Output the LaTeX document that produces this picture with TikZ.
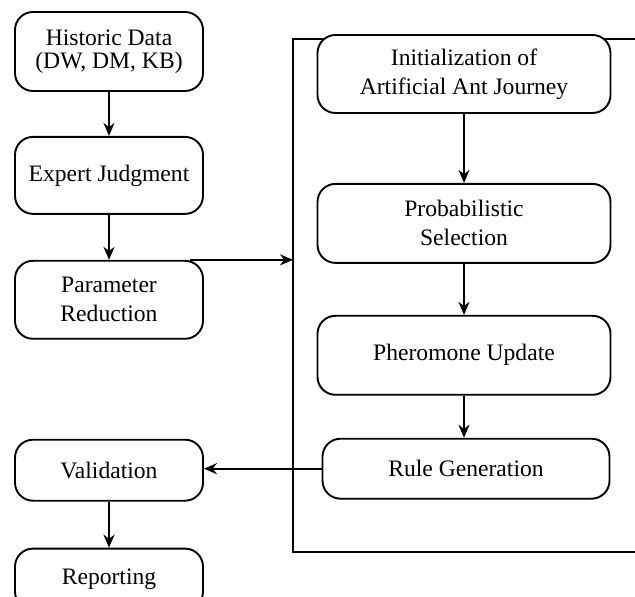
\documentclass[tikz,border=0pt]{standalone}
\usepackage{fontspec}
\setmainfont{Liberation Serif}
\usetikzlibrary{positioning,arrows.meta}

\tikzset{
  stepbox/.style={draw, rounded corners=9pt, align=center, inner sep=2pt,
    font=\fontsize{11.8pt}{14.5pt}\selectfont},
  leftbox/.style={stepbox, minimum width=94pt},
  rightbox/.style={stepbox, minimum width=146.5pt},
}

\begin{document}
\begin{tikzpicture}[line width=0.95pt, >={Stealth[length=6.5pt,width=5.5pt]}]
 \useasboundingbox (0,0) rectangle (317.5pt,-298.5pt);
 % left column
 \node [leftbox, minimum height=39.5pt, font=\fontsize{11.8pt}{11.6pt}\selectfont]
   (hist) at (54.5pt,-25.75pt) {Historic Data\\(DW, DM, KB)};
 \node [leftbox, minimum height=38.5pt, below=22pt of hist] (expert) {Expert Judgment};
 \node [leftbox, minimum height=39pt, below=22.5pt of expert] (param) {Parameter\\Reduction};
 \node [leftbox, minimum height=30.5pt, below=49.5pt of param] (valid) {Validation};
 \node [leftbox, minimum height=30.5pt, below=23pt of valid] (report) {Reporting};
 % ant colony frame
 \coordinate (frame nw) at (146.5pt,-19.5pt);
 \coordinate (frame sw) at (146.5pt,-276pt);
 \draw (317.5pt,-19.5pt) -- (frame nw) -- (frame sw) -- (317.5pt,-276pt);
 % right column
 \node [rightbox, minimum height=39pt, fill=white] (init) at (232pt,-37pt)
   {Initialization of\\Artificial Ant Journey};
 \node [rightbox, minimum height=39.5pt, below=34.5pt of init] (prob) {Probabilistic\\Selection};
 \node [rightbox, minimum height=39.5pt, below=25.5pt of prob] (pher) {Pheromone Update};
 \node [stepbox, minimum width=143.5pt, minimum height=30pt, below=21pt of pher,
   xshift=1pt] (rule) {Rule Generation};

 \draw [->] (hist) -- (expert);
 \draw [->] (expert) -- (param);
 \draw [->] ([xshift=-7pt]param.north east) -- (param.north -| frame nw);
 \draw [->] (init) -- (init |- prob.north);
 \draw [->] (prob) -- (prob |- pher.north);
 \draw [->] (pher) -- (pher |- rule.north);
 \draw [->] (rule.west) -- (rule.west -| valid.east);
 \draw [->] (valid) -- (report);
\end{tikzpicture}
\end{document}
